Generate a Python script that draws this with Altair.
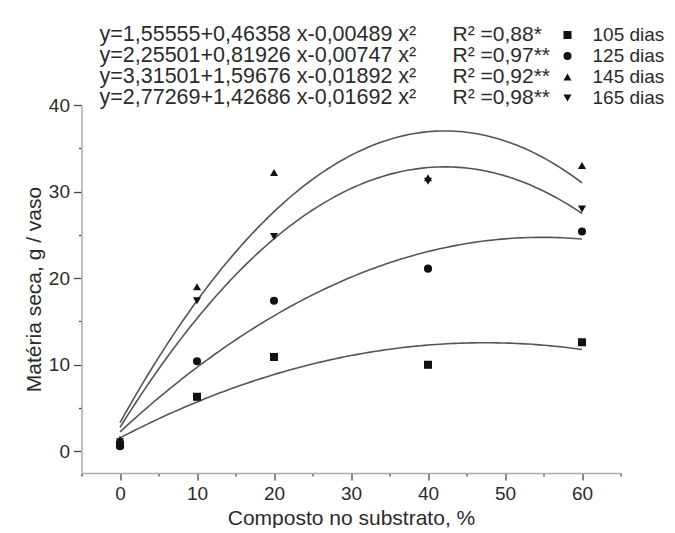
import altair as alt
import pandas as pd

# ---- data ----
x_vals = [0, 10, 20, 40, 60]
y_105 = [0.8, 6.3, 10.9, 10.0, 12.6]
y_125 = [0.6, 10.4, 17.4, 21.1, 25.4]
y_145 = [1.4, 19.0, 32.2, 31.6, 33.0]
y_165 = [1.1, 17.4, 24.8, 31.2, 28.0]

series = ["105 dias", "125 dias", "145 dias", "165 dias"]
coef_a = [1.55555, 2.25501, 3.31501, 2.77269]
coef_b = [0.46358, 0.81926, 1.59676, 1.42686]
coef_c = [-0.00489, -0.00747, -0.01892, -0.01692]
equations = [
    "y=1,55555+0,46358 x-0,00489 x²",
    "y=2,25501+0,81926 x-0,00747 x²",
    "y=3,31501+1,59676 x-0,01892 x²",
    "y=2,77269+1,42686 x-0,01692 x²",
]
r2_text = ["R² =0,88*", "R² =0,97**", "R² =0,92**", "R² =0,98**"]
shapes = ["square", "circle", "triangle-up", "triangle-down"]
x_ticks = [-5, 0, 5, 10, 15, 20, 25, 30, 35, 40, 45, 50, 55, 60, 65]
y_ticks = [0, 5, 10, 15, 20, 25, 30, 35, 40]

FONT = "Liberation Sans"
TXT = "#2b2b2b"

points = pd.DataFrame(
    [(x, y, s) for s, ys in zip(series, [y_105, y_125, y_145, y_165]) for x, y in zip(x_vals, ys)],
    columns=["x", "y", "series"],
)
coefs = pd.DataFrame({"series": series, "a": coef_a, "b": coef_b, "c": coef_c})
legend_df = pd.DataFrame({"row": [1, 2, 3, 4], "eq": equations, "r2": r2_text, "series": series})

shape_scale = alt.Scale(domain=series, range=shapes)

W, H = 539, 368

xscale = alt.Scale(domain=[-5, 65], nice=False, zero=False)
yscale = alt.Scale(domain=[-2.5, 40], nice=False, zero=False)

MAJOR = "abs(datum.value % 10) < 0.001"

xaxis = alt.Axis(
    values=x_ticks,
    labelExpr=f"{MAJOR} ? datum.label : ''",
    tickSize={"condition": {"test": MAJOR, "value": 7}, "value": 3},
    labelOverlap=False,
    labelFlush=False,
    title="Composto no substrato, %",
    grid=False,
    labelPadding=4,
    titlePadding=4,
)
yaxis = alt.Axis(
    values=y_ticks,
    labelExpr=f"{MAJOR} ? datum.label : ''",
    tickSize={"condition": {"test": MAJOR, "value": 8}, "value": 3},
    labelOverlap=False,
    title="Matéria seca, g / vaso",
    grid=False,
    labelPadding=4,
    titlePadding=4,
)

curves = (
    alt.Chart(coefs)
    .transform_calculate(xs="sequence(0, 60.25, 0.5)")
    .transform_flatten(["xs"])
    .transform_calculate(yv="datum.a + datum.b * datum.xs + datum.c * datum.xs * datum.xs")
    .mark_line(color="#555555", strokeWidth=1.6)
    .encode(
        x=alt.X("xs:Q", scale=xscale, axis=xaxis),
        y=alt.Y("yv:Q", scale=yscale, axis=yaxis),
        detail="series:N",
    )
)

pts = (
    alt.Chart(points)
    .mark_point(filled=True, color="#111111", size=65, opacity=1)
    .encode(
        x=alt.X("x:Q", scale=xscale, axis=xaxis),
        y=alt.Y("y:Q", scale=yscale, axis=yaxis),
        shape=alt.Shape("series:N", scale=shape_scale, legend=None),
    )
)

main = alt.layer(curves, pts).properties(width=W, height=H)

# legend block above the plot
LH = 97
ly = alt.Y("row:Q", scale=alt.Scale(domain=[-0.2857, 4.3333], reverse=True, nice=False, zero=False), axis=None)
lbase = alt.Chart(legend_df)
leg_eq = lbase.mark_text(align="left", baseline="middle", fontSize=21.5, font=FONT, color=TXT).encode(
    x=alt.value(18), y=ly, text="eq:N"
)
leg_r2 = lbase.mark_text(align="left", baseline="middle", fontSize=21, font=FONT, color=TXT).encode(
    x=alt.value(371), y=ly, text="r2:N"
)
leg_pt = lbase.mark_point(filled=True, color="#111111", size=65, opacity=1).encode(
    x=alt.value(486), y=ly, shape=alt.Shape("series:N", scale=shape_scale, legend=None)
)
leg_lab = lbase.mark_text(align="left", baseline="middle", fontSize=19, font=FONT, color=TXT).encode(
    x=alt.value(511), y=ly, text="series:N"
)
legend = alt.layer(leg_eq, leg_r2, leg_pt, leg_lab).properties(width=W, height=LH)

chart = (
    alt.vconcat(legend, main, spacing=0, bounds="flush")
    .properties(padding={"left": 14.5, "top": 0, "right": 0, "bottom": 0})
    .configure_view(stroke=None)
    .configure_axis(
        labelFont=FONT,
        titleFont=FONT,
        labelFontSize=19,
        titleFontSize=21,
        titleFontWeight="normal",
        labelColor=TXT,
        titleColor=TXT,
        domainColor="#aaaaaa",
        domainWidth=1.5,
        tickColor="#444444",
        tickWidth=1.3,
    )
)

chart.save("out.html", embed_options={"renderer": "svg", "actions": False})
